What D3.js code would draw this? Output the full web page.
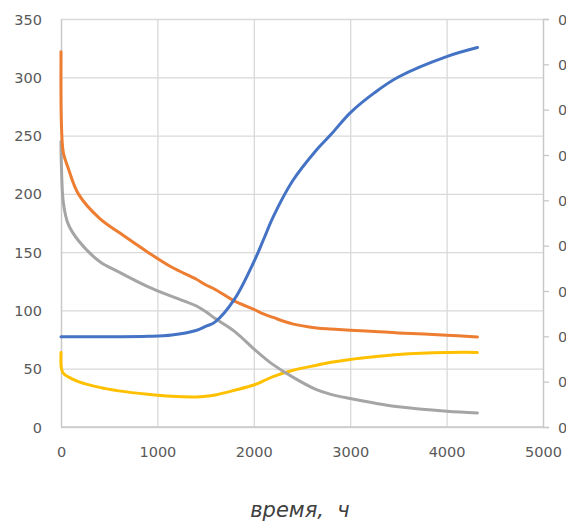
<!DOCTYPE html>
<html>
<head>
<meta charset="utf-8">
<style>
  body { margin: 0; background: #fff; font-family: "DejaVu Sans", sans-serif; overflow: hidden; }
  .grid line { stroke: #d9d9d9; stroke-width: 1.3; }
  .grid path { display: none; }
  .axis text { fill: #595959; font-size: 14.5px; font-family: "DejaVu Sans", sans-serif; }
  .axis line, .axis path { stroke: #c8c8c8; stroke-width: 1.3; }
</style>
<script src="https://d3js.org/d3.v7.min.js"></script>
</head>
<body>
<script>
// time, h
const time   = [0, 5, 25, 75, 180, 400, 600, 900, 1150, 1400, 1500, 1600, 1800, 2000, 2100, 2200, 2400, 2650, 2800, 3000, 3250, 3500, 4000, 4320];
// left axis series
const orange = [322, 258, 235, 222, 200, 179, 167, 150, 137, 127, 122, 118, 108, 101, 97, 94, 88.5, 85, 84, 83, 82, 80.7, 78.8, 77.3];
const gray   = [245, 222, 192, 174, 160, 142, 133, 120.5, 112, 104, 99, 93, 82, 67, 60, 53.5, 43, 32, 28, 24.4, 20.5, 17.3, 13.5, 12];
const yellow = [64, 50, 46, 43, 39, 34, 31, 28, 26.3, 25.8, 26.3, 27.5, 31.5, 36, 39.5, 43.3, 48.5, 53, 55.5, 58, 60.3, 62.2, 63.9, 64];
// right axis series
const blue   = [0.199, 0.199, 0.199, 0.199, 0.199, 0.199, 0.199, 0.2, 0.203, 0.213, 0.222, 0.232, 0.282, 0.364, 0.413, 0.463, 0.542, 0.611, 0.645, 0.693, 0.737, 0.772, 0.817, 0.837];

const xTicks = [0, 1000, 2000, 3000, 4000, 5000];
const yLeftTicks = [0, 50, 100, 150, 200, 250, 300, 350];
const yRightTicks = [0, 0.1, 0.2, 0.3, 0.4, 0.5, 0.6, 0.7, 0.8, 0.9];
const xTitle = "время,  ч";

const W = 566, H = 524;
const m = { left: 61, top: 19, right: 23, bottom: 97 };

const svg = d3.select("body").append("svg").attr("width", W).attr("height", H);

const x = d3.scaleLinear().domain([0, 5000]).range([m.left, W - m.right]);
const yL = d3.scaleLinear().domain([0, 350]).range([H - m.bottom, m.top]);
const yR = d3.scaleLinear().domain([0, 0.9]).range([H - m.bottom, m.top]);

// gridlines
svg.append("g").attr("class", "grid")
  .attr("transform", "translate(0," + (H - m.bottom) + ")")
  .call(d3.axisBottom(x).tickValues(xTicks).tickSize(-(H - m.bottom - m.top)).tickFormat(""));
svg.append("g").attr("class", "grid")
  .attr("transform", "translate(" + m.left + ",0)")
  .call(d3.axisLeft(yL).tickValues(yLeftTicks).tickSize(-(W - m.left - m.right)).tickFormat(""));

// axes
const ax = svg.append("g").attr("class", "axis")
  .attr("transform", "translate(0," + (H - m.bottom) + ")")
  .call(d3.axisBottom(x).tickValues(xTicks).tickSize(0).tickPadding(20).tickFormat(d3.format("d")));
ax.select(".domain").attr("d", "M" + m.left + ",0H" + (W - m.right));

const ayL = svg.append("g").attr("class", "axis")
  .attr("transform", "translate(" + m.left + ",0)")
  .call(d3.axisLeft(yL).tickValues(yLeftTicks).tickSize(0).tickPadding(19).tickFormat(d3.format("d")));

// right axis: labels run past the window edge, as in the original
const ayR = svg.append("g").attr("class", "axis")
  .attr("transform", "translate(" + (W - m.right) + ",0)")
  .call(d3.axisRight(yR).tickValues(yRightTicks).tickSize(6).tickPadding(9)
    .tickFormat(d => d3.format(".1f")(d).replace(".", ",")));
ayR.selectAll("text").attr("dy", "0.35em");
ayL.selectAll("text").attr("dy", "0.35em");

// lines
const curve = d3.curveCatmullRom.alpha(0.5);
const lineL = d3.line().curve(curve).x((d, i) => x(time[i])).y(d => yL(d));
const lineR = d3.line().curve(curve).x((d, i) => x(time[i])).y(d => yR(d));

const series = [
  { v: yellow, c: "#ffc000", f: lineL },
  { v: gray, c: "#a5a5a5", f: lineL },
  { v: orange, c: "#ed7d31", f: lineL },
  { v: blue, c: "#4472c4", f: lineR }
];
svg.append("g").selectAll("path").data(series).enter().append("path")
  .attr("d", d => d.f(d.v))
  .attr("fill", "none")
  .attr("stroke", d => d.c)
  .attr("stroke-width", 3)
  .attr("stroke-linecap", "round");

// title
svg.append("text")
  .attr("x", 300).attr("y", 517)
  .attr("text-anchor", "middle")
  .attr("font-size", "21px")
  .attr("font-style", "italic")
  .attr("fill", "#404040")
  .style("white-space", "pre")
  .text(xTitle);
</script>
</body>
</html>
